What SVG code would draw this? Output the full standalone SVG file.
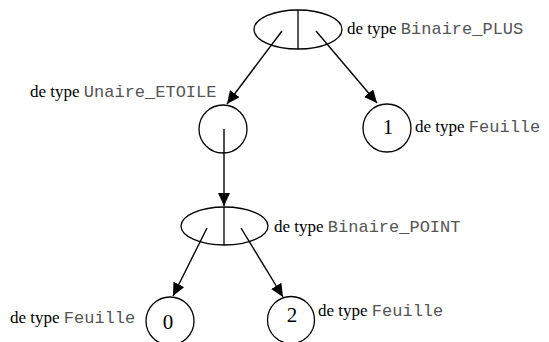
<svg xmlns="http://www.w3.org/2000/svg" width="549" height="342" viewBox="0 0 549 342">
  <style>
    .shape { fill: none; stroke: #000; stroke-width: 1.3; }
    .edge { stroke: #000; stroke-width: 1.4; fill: none; }
    .serif { font-family: "Liberation Serif", "Times New Roman", serif; font-size: 17px; fill: #000; }
    .mono { font-family: "Courier New", "Nimbus Mono PS", "FreeMono", "Liberation Mono", monospace; font-size: 17px; fill: #555; }
    .digit { font-family: "Liberation Serif", "Times New Roman", serif; font-size: 21px; fill: #000; text-anchor: middle; }
  </style>
  <defs>
    <marker id="arrow" markerUnits="userSpaceOnUse" markerWidth="14" markerHeight="12" refX="13" refY="6" orient="auto">
      <path d="M0,0 L13,6 L0,12 Z" fill="#000"/>
    </marker>
  </defs>
  <rect width="549" height="342" fill="#fff"/>

  <g id="connectors">
    <line class="edge" x1="282" y1="31" x2="227" y2="104" marker-end="url(#arrow)"/>
    <line class="edge" x1="316" y1="31" x2="377" y2="103" marker-end="url(#arrow)"/>
    <line class="edge" x1="224" y1="129" x2="224" y2="206" marker-end="url(#arrow)"/>
    <line class="edge" x1="207" y1="228" x2="173" y2="296" marker-end="url(#arrow)"/>
    <line class="edge" x1="241" y1="228" x2="283" y2="297" marker-end="url(#arrow)"/>
  </g>

  <g id="plus">
    <ellipse class="shape" cx="298" cy="29.5" rx="44" ry="19.5"/>
    <line class="shape" x1="298" y1="10" x2="298" y2="49"/>
    <text x="347" y="34"><tspan class="serif">de type </tspan><tspan class="mono">Binaire_PLUS</tspan></text>
  </g>

  <g id="etoile">
    <circle class="shape" cx="223" cy="129" r="24"/>
    <text x="30" y="97"><tspan class="serif">de type </tspan><tspan class="mono">Unaire_ETOILE</tspan></text>
  </g>

  <g id="leaf-1">
    <circle class="shape" cx="387" cy="128" r="24"/>
    <text class="digit" x="388" y="134">1</text>
    <text x="415" y="132"><tspan class="serif">de type </tspan><tspan class="mono">Feuille</tspan></text>
  </g>

  <g id="point">
    <ellipse class="shape" cx="224.5" cy="226" rx="43.5" ry="19"/>
    <line class="shape" x1="224" y1="207" x2="224" y2="245"/>
    <text x="274" y="232"><tspan class="serif">de type </tspan><tspan class="mono">Binaire_POINT</tspan></text>
  </g>

  <g id="leaf-0">
    <circle class="shape" cx="170" cy="321" r="24"/>
    <text class="digit" x="168" y="329">0</text>
    <text x="10" y="323"><tspan class="serif">de type </tspan><tspan class="mono">Feuille</tspan></text>
  </g>

  <g id="leaf-2">
    <circle class="shape" cx="291" cy="320" r="23.5"/>
    <text class="digit" x="292" y="322">2</text>
    <text x="318" y="316"><tspan class="serif">de type </tspan><tspan class="mono">Feuille</tspan></text>
  </g>
</svg>
